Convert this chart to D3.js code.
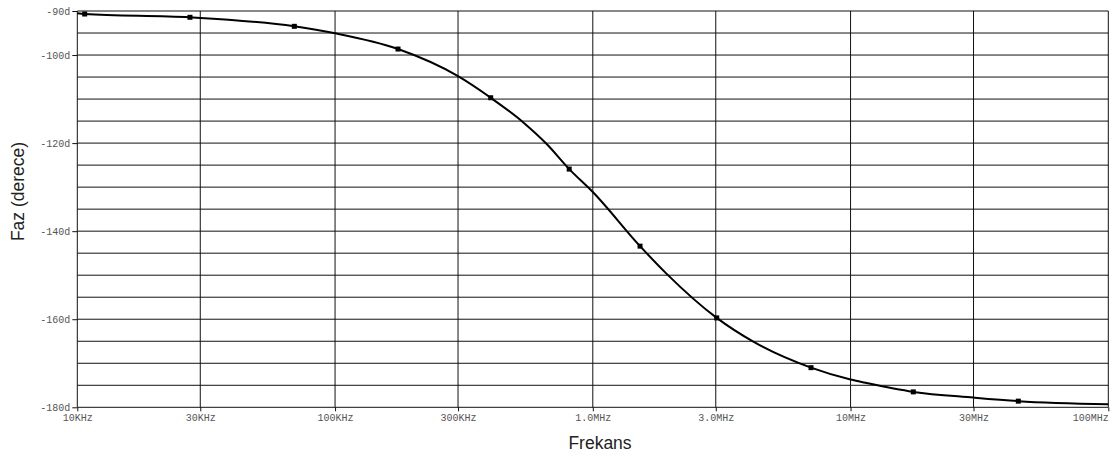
<!DOCTYPE html>
<html>
<head>
<meta charset="utf-8">
<script src="https://cdn.jsdelivr.net/npm/d3@7"></script>
<style>
  html, body { margin: 0; padding: 0; background: #fff; }
  svg { display: block; }
</style>
</head>
<body>
<svg id="chart" width="1116" height="459"></svg>
<script>
// Phase response of a single-pole stage, frequency in Hz, phase in degrees
const traceFreq  = [1e4, 1.068e4, 2.736e4, 6.95e4, 1e5, 1.755e5, 3e5, 4.017e5, 5.376e5, 6.624e5, 8.10e5, 1e6, 1.525e6, 1.935e6, 3.025e6, 4.195e6, 7.024e6, 1e7, 1.155e7, 1.752e7, 3e7, 4.476e7, 1e8];
const tracePhase = [-90.5, -90.68, -91.43, -93.48, -95.07, -98.64, -104.8, -109.7, -115.3, -120.2, -125.9, -131.1, -143.4, -149.7, -159.7, -165.1, -171.0, -173.7, -174.5, -176.5, -177.8, -178.6, -179.3];

// Symbol markers placed along the trace
const markerFreq  = [1.068e4, 2.736e4, 6.95e4, 1.755e5, 4.017e5, 8.10e5, 1.525e6, 3.025e6, 7.024e6, 1.752e7, 4.476e7];
const markerPhase = [-90.68, -91.43, -93.48, -98.64, -109.7, -125.9, -143.4, -159.7, -171.0, -176.5, -178.6];

// Axis ticks
const xTickValues = [1e4, 3e4, 1e5, 3e5, 1e6, 3e6, 1e7, 3e7, 1e8];
const xTickLabels = ["10KHz", "30KHz", "100KHz", "300KHz", "1.0MHz", "3.0MHz", "10MHz", "30MHz", "100MHz"];
const yGridValues = d3.range(-180, -89, 5);
const yTickValues = [-90, -100, -120, -140, -160, -180];
const yTickLabels = ["-90d", "-100d", "-120d", "-140d", "-160d", "-180d"];

const svg = d3.select("#chart");
const plotLeft = 77.3, plotRight = 1108.3, plotTop = 11, plotBottom = 407.3;

const x = d3.scaleLog().domain([1e4, 1e8]).range([plotLeft, plotRight]);
const y = d3.scaleLinear().domain([-180, -90]).range([plotBottom, plotTop]);

const monoFont = "'Liberation Mono', 'DejaVu Sans Mono', monospace";
const sansFont = "'Liberation Sans', Arial, Helvetica, sans-serif";

// Horizontal grid
svg.append("g")
  .selectAll("line")
  .data(yGridValues)
  .join("line")
  .attr("x1", plotLeft).attr("x2", plotRight)
  .attr("y1", d => y(d)).attr("y2", d => y(d))
  .attr("stroke", "#111").attr("stroke-width", 1);

// Vertical grid
svg.append("g")
  .selectAll("line")
  .data(xTickValues)
  .join("line")
  .attr("x1", d => x(d)).attr("x2", d => x(d))
  .attr("y1", plotTop).attr("y2", plotBottom)
  .attr("stroke", "#111").attr("stroke-width", 1);

// Y axis ticks and labels
const yAxis = d3.axisLeft(y)
  .tickValues(yTickValues)
  .tickFormat((d, i) => yTickLabels[i])
  .tickSize(5)
  .tickPadding(2);
const gy = svg.append("g").attr("transform", `translate(${plotLeft},0)`).call(yAxis);
gy.select(".domain").remove();
gy.selectAll("line").attr("stroke", "#111");
gy.selectAll("text")
  .attr("font-family", monoFont).attr("font-size", 10)
  .attr("fill", "#555");

// X axis ticks and labels
const xAxis = d3.axisBottom(x)
  .tickValues(xTickValues)
  .tickFormat((d, i) => xTickLabels[i])
  .tickSize(4)
  .tickPadding(3);
const gx = svg.append("g").attr("transform", `translate(0,${plotBottom})`).call(xAxis);
gx.select(".domain").remove();
gx.selectAll("line").attr("stroke", "#111");
gx.selectAll("text")
  .attr("font-family", monoFont).attr("font-size", 10)
  .attr("fill", "#555")
  .attr("text-anchor", d => d === 1e8 ? "end" : "middle");

// Phase trace
const line = d3.line()
  .x(d => x(d[0]))
  .y(d => y(d[1]))
  .curve(d3.curveMonotoneX);
svg.append("path")
  .datum(traceFreq.map((f, i) => [f, tracePhase[i]]))
  .attr("d", line)
  .attr("fill", "none")
  .attr("stroke", "#000")
  .attr("stroke-width", 2);

// Markers
svg.append("g")
  .selectAll("rect")
  .data(markerFreq.map((f, i) => [f, markerPhase[i]]))
  .join("rect")
  .attr("x", d => x(d[0]) - 2.5)
  .attr("y", d => y(d[1]) - 2.5)
  .attr("width", 5).attr("height", 5)
  .attr("fill", "#000");

// Axis titles
svg.append("text")
  .attr("x", 600).attr("y", 449)
  .attr("text-anchor", "middle")
  .attr("font-family", sansFont).attr("font-size", 17.5)
  .attr("fill", "#222")
  .text("Frekans");

svg.append("text")
  .attr("transform", "translate(24,191.5) rotate(-90)")
  .attr("text-anchor", "middle")
  .attr("font-family", sansFont).attr("font-size", 17.5)
  .attr("fill", "#222")
  .text("Faz (derece)");
</script>
</body>
</html>
